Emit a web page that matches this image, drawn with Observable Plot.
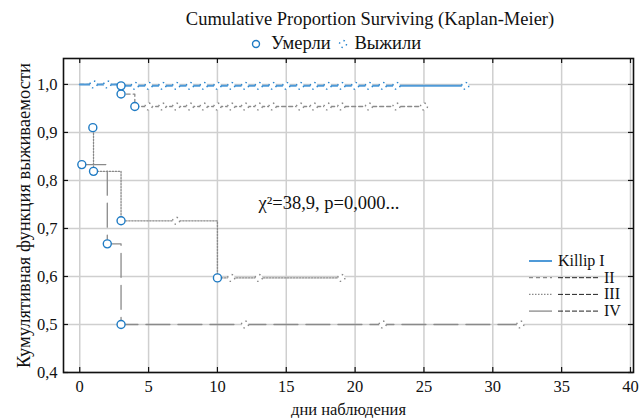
<!DOCTYPE html>
<html><head><meta charset="utf-8">
<script src="https://cdn.jsdelivr.net/npm/d3@7"></script>
<script src="https://cdn.jsdelivr.net/npm/@observablehq/plot@0.6"></script>
<style>
body{margin:0;background:#fff;}
#wrap{position:relative;width:643px;height:418px;font-family:"Liberation Serif","Tinos","Times New Roman","DejaVu Serif",serif;color:#111;overflow:hidden;}
#plot{position:absolute;left:0;top:0;}
.ov{position:absolute;white-space:nowrap;}
</style></head><body>
<div id="wrap"><div id="plot"></div></div>
<script>
// ---- data ----
const groupNames = ["Killip I", "II", "III", "IV"];
const xTicks = [0, 5, 10, 15, 20, 25, 30, 35, 40];
const yTicks = [0.4, 0.5, 0.6, 0.7, 0.8, 0.9, 1.0];
const titleText = "Cumulative Proportion Surviving (Kaplan-Meier)";
const deadLabel = "Умерли";
const censLabel = "Выжили";
const xLabel = "дни наблюдения";
const yLabel = "Кумулятивная функция выживаемости";
const chiLabel = "χ²=38,9, p=0,000...";

// step curves (time, survival)
const k1Time = [0, 3, 28];
const k1Surv = [1.0, 0.997, 0.997];
const k2Time = [0, 3, 4, 25];
const k2Surv = [1.0, 0.980, 0.954, 0.954];
const k3Time = [0.95, 1, 3, 10, 19];
const k3Surv = [0.910, 0.819, 0.716, 0.597, 0.597];
const k4Time = [0.15, 2, 3, 32];
const k4Surv = [0.833, 0.668, 0.5, 0.5];

// deaths (circles)
const k1DeathT = [3];           const k1DeathS = [0.997];
const k2DeathT = [3, 4];        const k2DeathS = [0.980, 0.954];
const k3DeathT = [0.95, 1, 3, 10]; const k3DeathS = [0.910, 0.819, 0.716, 0.597];
const k4DeathT = [0.15, 2, 3];  const k4DeathS = [0.833, 0.668, 0.5];

// censored (survived)
const k1CensT = [1, 2, 4, 5, 6, 7, 8, 9, 10, 11, 12, 13, 14, 15, 16, 17, 18, 19, 20, 21, 22, 23, 28];
const k1CensS = [1.0, 1.0, 0.997, 0.997, 0.997, 0.997, 0.997, 0.997, 0.997, 0.997, 0.997, 0.997, 0.997, 0.997, 0.997, 0.997, 0.997, 0.997, 0.997, 0.997, 0.997, 0.997, 0.997];
const k2CensT = [5, 6, 7, 8, 9, 10, 11, 12, 13, 14, 16, 17, 18, 19, 21, 23, 25];
const k2CensS = [0.954, 0.954, 0.954, 0.954, 0.954, 0.954, 0.954, 0.954, 0.954, 0.954, 0.954, 0.954, 0.954, 0.954, 0.954, 0.954, 0.954];
const k3CensT = [7, 11, 13, 19];
const k3CensS = [0.716, 0.597, 0.597, 0.597];
const k4CensT = [12, 22, 32];
const k4CensS = [0.5, 0.5, 0.5];

// ---- styles (not data) ----
const FONT = '"Liberation Serif","Tinos","Times New Roman","DejaVu Serif",serif';
const lineStyle = {
  "Killip I": {stroke: "#4f9ad8", width: 2, dash: null},
  "II": {stroke: "#8a8a8a", width: 1.3, dash: "4,3"},
  "III": {stroke: "#8a8a8a", width: 1.3, dash: "1.5,1.5"},
  "IV": {stroke: "#8a8a8a", width: 1.3, dash: "24,8"}
};
const deathColor = "#1f7bc4";

const curves = [[k1Time, k1Surv], [k2Time, k2Surv], [k3Time, k3Surv], [k4Time, k4Surv]];
const deathsArr = [[k1DeathT, k1DeathS], [k2DeathT, k2DeathS], [k3DeathT, k3DeathS], [k4DeathT, k4DeathS]];
const censArr = [[k1CensT, k1CensS], [k2CensT, k2CensS], [k3CensT, k3CensS], [k4CensT, k4CensS]];

const zip = (g, t, s) => t.map((v, i) => ({group: g, t: v, s: s[i]}));

const marks = [
  Plot.gridX(xTicks, {stroke: "#cfcfcf", strokeOpacity: 1, strokeWidth: 1.5}),
  Plot.gridY(yTicks, {stroke: "#cfcfcf", strokeOpacity: 1, strokeWidth: 1.5}),
];
[3, 2, 1, 0].forEach(i => {
  const g = groupNames[i], st = lineStyle[g];
  marks.push(Plot.line(zip(g, curves[i][0], curves[i][1]), {
    x: "t", y: "s", curve: "step-after", stroke: st.stroke, strokeWidth: st.width,
    strokeDasharray: st.dash
  }));
});
[3, 2, 1, 0].forEach(i => {
  const g = groupNames[i], st = lineStyle[g];
  marks.push(Plot.dot(zip(g, censArr[i][0], censArr[i][1]), {
    x: "t", y: "s", r: 3.5, fill: "white", stroke: i === 0 ? "#2a86cf" : st.stroke,
    strokeWidth: 1.4, strokeDasharray: "1.5,4"
  }));
});
[3, 2, 1, 0].forEach(i => {
  const g = groupNames[i];
  marks.push(Plot.dot(zip(g, deathsArr[i][0], deathsArr[i][1]), {
    x: "t", y: "s", r: 4, fill: "white", stroke: deathColor, strokeWidth: 1.4
  }));
});
marks.push(
  Plot.text([chiLabel], {text: d => d, frameAnchor: "top-left", dx: 195, dy: 145, textAnchor: "start", lineAnchor: "middle", fontSize: 18.5, fill: "#111"}),
  Plot.tickX(xTicks, {x: d => d, insetTop: 309, stroke: "#111", strokeWidth: 1.2}),
  Plot.tickX(xTicks, {x: d => d, insetBottom: 309, stroke: "#111", strokeWidth: 1.2}),
  Plot.tickY(yTicks, {y: d => d, insetRight: 565, stroke: "#111", strokeWidth: 1.2}),
  Plot.tickY(yTicks, {y: d => d, insetLeft: 565, stroke: "#111", strokeWidth: 1.2}),
  Plot.axisX({ticks: xTicks, tickSize: 0, tickPadding: 8, fontSize: 16.5, label: null, fill: "#111"}),
  Plot.axisX({ticks: [], tickSize: 0, label: xLabel, labelAnchor: "center", labelArrow: "none", labelOffset: 42, fontSize: 16.5, fill: "#111"}),
  Plot.axisY({ticks: yTicks, tickSize: 0, tickPadding: 6, fontSize: 16.5, tickFormat: d => d.toFixed(1).replace(".", ","), label: null, fill: "#111"}),
  Plot.axisY({ticks: [], tickSize: 0, label: yLabel, labelAnchor: "center", labelArrow: "none", labelOffset: 47, fontSize: 18.5, fill: "#111"}),
  Plot.frame({stroke: "#111", strokeWidth: 1.6})
);

const chart = Plot.plot({
  width: 643, height: 418,
  marginLeft: 63, marginRight: 10, marginTop: 58, marginBottom: 46,
  x: {domain: [-1.18, 40.22]},
  y: {domain: [0.4, 1.054]},
  style: {fontFamily: FONT, fontSize: "16px", color: "#111", background: "white"},
  marks
});
chart.setAttribute("font-family", FONT);
chart.style.fontFamily = FONT;
document.getElementById("plot").appendChild(chart);

// ---- overlays: title and legends ----
const wrapEl = document.getElementById("wrap");
const titleEl = document.createElement("div");
titleEl.className = "ov";
titleEl.style.cssText = "left:120px;width:500px;top:9px;text-align:center;font-size:18.5px;";
titleEl.textContent = titleText;
wrapEl.appendChild(titleEl);

const topLeg = document.createElement("div");
topLeg.className = "ov";
topLeg.style.cssText = "left:248px;top:33px;font-size:18.5px;display:flex;align-items:center;";
topLeg.innerHTML = `<svg width="18" height="14"><circle cx="8" cy="7" r="3.5" fill="white" stroke="${deathColor}" stroke-width="1.4"/></svg>` +
  `<span style="margin-left:5px">${deadLabel}</span>` +
  `<svg width="20" height="14" style="margin-left:2px"><circle cx="10" cy="7" r="3.5" fill="white" stroke="#2a86cf" stroke-width="1.4" stroke-dasharray="1.5,4"/></svg>` +
  `<span style="margin-left:2px">${censLabel}</span>`;
wrapEl.appendChild(topLeg);

const leg = document.createElementNS("http://www.w3.org/2000/svg", "svg");
leg.setAttribute("width", "110"); leg.setAttribute("height", "70");
leg.style.cssText = "position:absolute;left:525px;top:250px;font-size:16px;";
leg.style.fontFamily = FONT;
let legHtml = "";
groupNames.forEach((g, i) => {
  const st = lineStyle[g];
  const yy = 11 + i * 16.7;
  legHtml += `<line x1="4" x2="27" y1="${yy}" y2="${yy}" stroke="${st.stroke}" stroke-width="${st.width}" ${st.dash ? `stroke-dasharray="${st.dash}"` : ""}/>`;
  if (i === 0) {
    legHtml += `<text x="33" y="${yy + 5}" fill="#111">${g}</text>`;
  } else {
    legHtml += `<line x1="33" x2="75" y1="${yy}" y2="${yy}" stroke="#222" stroke-width="1" stroke-dasharray="5,2"/>`;
    legHtml += `<text x="79" y="${yy + 5}" fill="#111">${g}</text>`;
  }
});
leg.innerHTML = legHtml;
wrapEl.appendChild(leg);
</script>
</body></html>
